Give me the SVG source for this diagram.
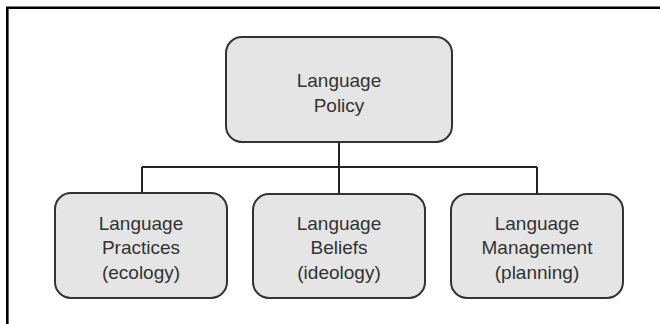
<svg xmlns="http://www.w3.org/2000/svg" width="660" height="324" viewBox="0 0 660 324">
<style>
.box{fill:#e5e5e5;stroke:#333;stroke-width:2}
.t{font-family:"Liberation Sans",Arial,sans-serif;font-size:19px;fill:#333;text-anchor:middle}
.c{fill:none;stroke:#222;stroke-width:2}
.frame{fill:none;stroke:#000;stroke-width:2.6}
</style>
<rect width="660" height="324" fill="#fff"/>
<path class="frame" d="M7.3,324 V7.8 H660"/>
<g id="connectors">
<path class="c" d="M339,142 V167 M142,167 H537 M142,167 V193 M339,167 V194 M537,167 V194"/>
</g>
<g id="policy">
<rect class="box" x="226" y="37" width="226" height="105" rx="16"/>
<text class="t" x="339" y="87">Language</text>
<text class="t" x="339" y="112">Policy</text>
</g>
<g id="practices">
<rect class="box" x="55" y="193" width="172" height="105" rx="16"/>
<text class="t" x="141" y="230">Language</text>
<text class="t" x="141" y="254">Practices</text>
<text class="t" x="141" y="279">(ecology)</text>
</g>
<g id="beliefs">
<rect class="box" x="253" y="194" width="172" height="104" rx="16"/>
<text class="t" x="339" y="230">Language</text>
<text class="t" x="339" y="254">Beliefs</text>
<text class="t" x="339" y="279">(ideology)</text>
</g>
<g id="management">
<rect class="box" x="451" y="194" width="172" height="104" rx="16"/>
<text class="t" x="537" y="230">Language</text>
<text class="t" x="537" y="254">Management</text>
<text class="t" x="537" y="279">(planning)</text>
</g>
</svg>
